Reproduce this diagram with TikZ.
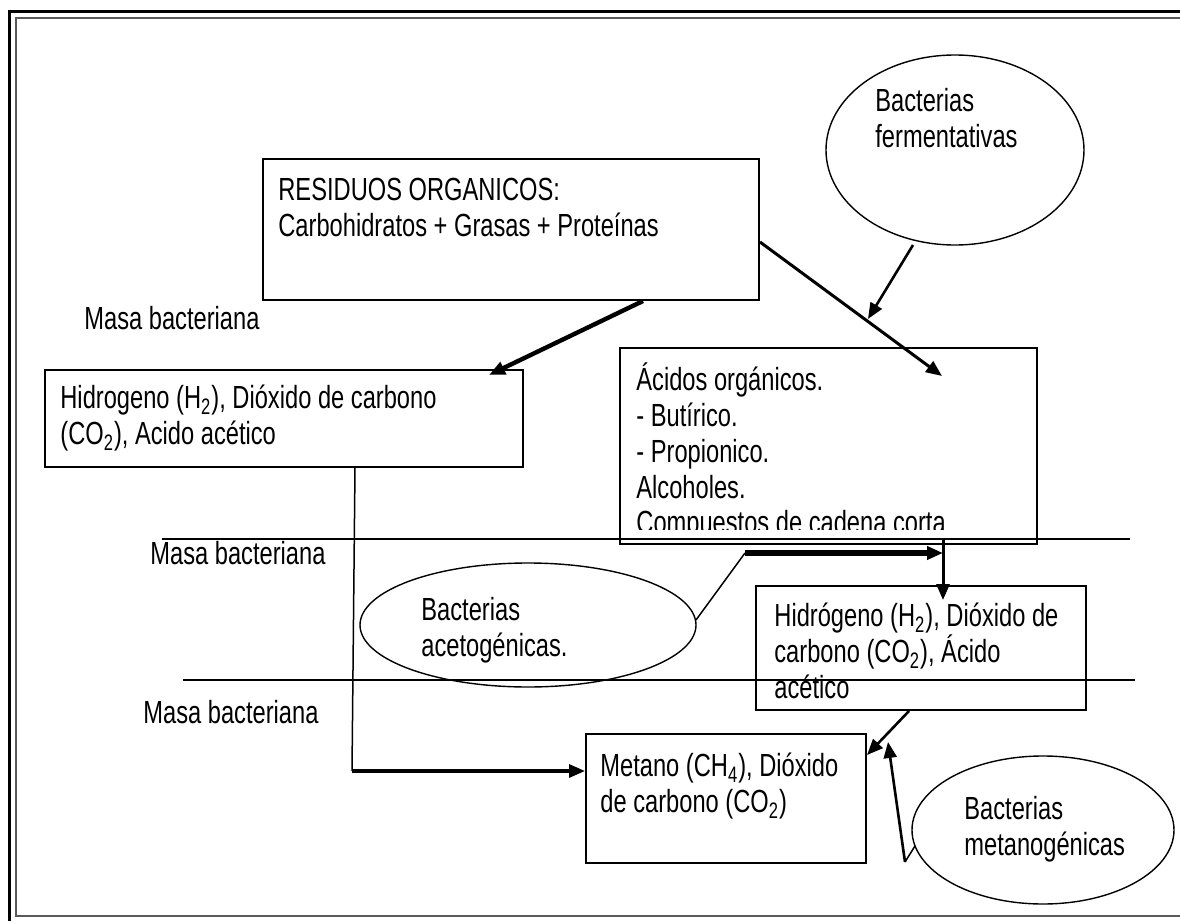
\documentclass[tikz,border=0pt]{standalone}
\usepackage{fontspec}
\setmainfont{Liberation Sans}[FakeStretch=0.74]
\usetikzlibrary{arrows.meta,shapes.geometric,calc}
\newcommand\diagfont{\fontsize{16}{18}\selectfont\lineskiplimit=-100pt\lineskip=0pt}
\newcommand\tstrut{\rule{0pt}{16pt}}
\begin{document}
\begin{tikzpicture}[x=0.5pt,y=-0.5pt,
  box/.style={draw, line width=1pt, rectangle, inner sep=0pt, anchor=north west},
  oval/.style={draw, line width=0.7pt, ellipse, inner sep=0pt},
  txt/.style={anchor=north west, inner sep=0pt, align=left, font=\diagfont},
  thinline/.style={line width=0.75pt},
  arr/.style={-{Triangle[length=8pt,width=6.5pt]}},
]
\useasboundingbox (0,0) rectangle (1180,921);
% frame
\coordinate (f1) at (9,921); \coordinate (f2) at (9,11); \coordinate (f3) at (1180,11);
\draw[line width=1.5pt] (f1) -- (f2) -- (f3);
\coordinate (g1) at (1180,18); \coordinate (g2) at (16,18); \coordinate (g3) at (16,916); \coordinate (g4) at (1180,916);
\draw[line width=1pt, black!65] (g1) -- (g2) -- (g3) -- (g4);

% boxes
\node[box, minimum width=248pt, minimum height=70.5pt] (res) at (262,158) {};
\node[box, minimum width=239pt, minimum height=48.5pt] (hidL) at (44,369) {};
\node[box, minimum width=208.5pt, minimum height=98pt] (acid) at (619,347) {};
\node[box, minimum width=165pt, minimum height=62pt] (hidR) at (755,585) {};
\node[box, minimum width=140pt, minimum height=64.5pt] (met) at (585,733) {};
% ellipses
\node[oval, minimum width=129pt, minimum height=95pt] (ferm) at (955,150) {};
\node[oval, minimum width=168pt, minimum height=62pt] (acet) at (528,625) {};
\node[oval, minimum width=131pt, minimum height=74pt] (metg) at (1043,830) {};

% horizontal lines
\coordinate (l1a) at (162,539); \coordinate (l1b) at (1130,539);
\draw[thinline] (l1a) -- (l1b);
\coordinate (l2a) at (183,680); \coordinate (l2b) at (1135,680);
\draw[thinline] (l2a) -- (l2b);

% texts
\node[txt] (tres) at (278,168.5) {\tstrut RESIDUOS ORGANICOS:\\Carbohidratos + Grasas + Proteínas};
\node[txt] (tferm) at (875,79.5) {\tstrut Bacterias\\fermentativas};
\node[txt] (m1) at (84,297.5) {\tstrut Masa bacteriana};
\node[txt] (thidL) at (60,376.5) {\tstrut Hidrogeno (H\textsubscript{2}), Dióxido de carbono\\(CO\textsubscript{2}), Acido acético};
\node[txt] (tacid) at (636,358.5) {\tstrut Ácidos orgánicos.\\- Butírico.\\- Propionico.\\Alcoholes.};
\begin{scope}
\clip (619,495) rectangle (1036,529);
\node[txt] (tcomp) at (636,501.5) {\tstrut Compuestos de cadena corta};
\end{scope}
\node[txt] (m2) at (150,532.5) {\tstrut Masa bacteriana};
\node[txt] (tacet) at (421,588.5) {\tstrut Bacterias\\acetogénicas.};
\node[txt] (thidR) at (774,594.5) {\tstrut Hidrógeno (H\textsubscript{2}), Dióxido de\\carbono (CO\textsubscript{2}), Ácido\\acético};
\node[txt] (m3) at (143,691.5) {\tstrut Masa bacteriana};
\node[txt] (tmet) at (600,744.5) {\tstrut Metano (CH\textsubscript{4}), Dióxido\\de carbono (CO\textsubscript{2})};
\node[txt] (tmetg) at (964,787.5) {\tstrut Bacterias\\metanogénicas};

% connectors
\draw[arr, line width=2.2pt] ($(res.south west)+(381,0)$) -- ($(hidL.north west)+(445,6)$);
\draw[arr, line width=1.5pt] ($(res.south east)+(0,-59)$) -- ($(acid.north west)+(323,29)$);
\coordinate (meet) at (868,319);
\draw[arr, line width=1.3pt] ($(ferm.center)+(-42,95)$) -- (meet);
\coordinate (ac1) at (745,553);
\coordinate (ac2) at (943,553);
\draw[thinline] ($(acet.center)+(168,-5)$) -- (ac1);
\draw[arr, line width=3pt] (ac1) -- (ac2);
\coordinate (v1) at (943,539);
\draw[arr, line width=1.5pt] (v1) -- ($(hidR.north west)+(188,15)$);
\coordinate (bend) at (352,771);
\draw[thinline] ($(hidL.south west)+(311,0)$) -- (bend);
\draw[arr, line width=1.6pt] (bend) -- ($(met.north west)+(0,38)$);
\draw[arr, line width=1.3pt] ($(hidR.south west)+(154,0)$) -- ($(met.north east)+(0,22)$);
\coordinate (mg1) at (905,862);
\draw[thinline] ($(metg.center)+(-128,16)$) -- (mg1);
\draw[arr, line width=1.3pt] (mg1) -- ($(met.north east)+(21,9)$);
\end{tikzpicture}
\end{document}
